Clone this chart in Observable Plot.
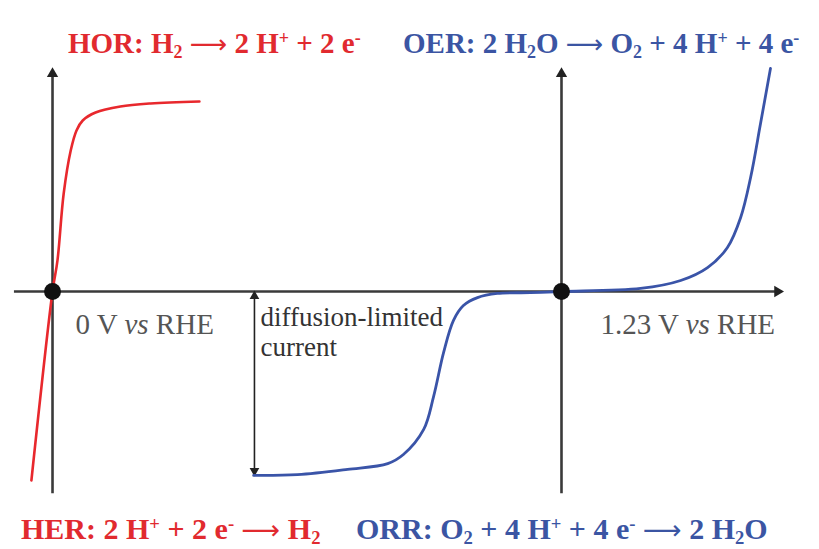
<!DOCTYPE html>
<html>
<head>
<meta charset="utf-8">
<script src="https://cdn.jsdelivr.net/npm/d3@7"></script>
<script src="https://cdn.jsdelivr.net/npm/@observablehq/plot@0.6"></script>
<style>
  html, body { margin: 0; padding: 0; background: #fff; }
  #wrap { width: 819px; height: 549px; position: relative; overflow: hidden; }
  .band { position: relative; width: 819px; }
  .lbl { position: absolute; white-space: nowrap; font-family: "Liberation Serif", "DejaVu Serif", serif;
         font-weight: bold; font-size: 29px; line-height: 29px; }
  #foot .lbl { font-size: 30px; line-height: 30px; }
  .lbl sub, .lbl sup { font-size: 0.62em; line-height: 0; }
  .lbl sub { vertical-align: -0.28em; }
  .lbl sup { vertical-align: 0.5em; }
  .arr { font-family: "DejaVu Sans", sans-serif; font-weight: normal; font-size: 0.9em; }
  .red { color: #e12a2f; }
  .blue { color: #3b55a3; }
  svg { display: block; }
</style>
</head>
<body>
<div id="wrap">
  <div class="band" id="head" style="height:60px">
    <span class="lbl red" style="left:68px; top:29px">HOR: H<sub>2</sub> <span class="arr">⟶</span> 2 H<sup>+</sup> + 2 e<sup>-</sup></span>
    <span class="lbl blue" style="left:403px; top:29px">OER: 2 H<sub>2</sub>O <span class="arr">⟶</span> O<sub>2</sub> + 4 H<sup>+</sup> + 4 e<sup>-</sup></span>
  </div>
  <div id="chart"></div>
  <div class="band" id="foot" style="height:49px">
    <span class="lbl red" style="left:21px; top:14px">HER: 2 H<sup>+</sup> + 2 e<sup>-</sup> <span class="arr">⟶</span> H<sub>2</sub></span>
    <span class="lbl blue" style="left:356px; top:14px">ORR: O<sub>2</sub> + 4 H<sup>+</sup> + 4 e<sup>-</sup> <span class="arr">⟶</span> 2 H<sub>2</sub>O</span>
  </div>
</div>
<script>
// Hydrogen curve (HOR / HER) — potential (V vs RHE), current (arb. units)
const hydrogenE = [-0.051, 0, 0.012, 0.027, 0.044, 0.058, 0.073, 0.104, 0.164, 0.237, 0.355];
const hydrogenJ = [-4.97, 0, 0.82, 2.58, 3.71, 4.24, 4.50, 4.71, 4.87, 4.95, 5.00];

// Oxygen curve (ORR / OER)
const oxygenE = [0.486, 0.592, 0.713, 0.810, 0.848, 0.897, 0.921, 0.945, 0.969, 0.993, 1.027, 1.075, 1.155, 1.23, 1.421, 1.518, 1.583, 1.631, 1.663, 1.687, 1.711, 1.735];
const oxygenJ = [-4.84, -4.82, -4.68, -4.53, -4.29, -3.63, -2.76, -1.61, -0.76, -0.37, -0.16, -0.05, -0.03, 0, 0.08, 0.29, 0.63, 1.16, 1.95, 3.00, 4.42, 5.87];

// Reference potentials marked on the axis
const refE = [0, 1.23];
const refLabels = ["0 V vs RHE", "1.23 V vs RHE"];
const limitingJ = -4.84;
const limitLabel = ["diffusion-limited", "current"];

const hydrogen = hydrogenE.map((e, i) => ({e, j: hydrogenJ[i]}));
const oxygen = oxygenE.map((e, i) => ({e, j: oxygenJ[i]}));

const axisX = [-0.092, 1.764];
const axisY = [-5.32, 5.85];
const AX = "#3a3a3a";
const labelStyle = {y: -0.87, textAnchor: "start", fontFamily: "Liberation Serif, serif", fontSize: 29, fill: "#555"};

const plot = Plot.plot({
  width: 819,
  height: 440,
  margin: 0,
  x: {domain: [-0.1257, 1.8535], axis: null},
  y: {domain: [-5.5, 6.08], axis: null},
  marks: [
    // axes
    Plot.ruleY([0], {x1: axisX[0], x2: axisX[1] - 0.01, stroke: AX, strokeWidth: 2.6}),
    Plot.ruleX(refE, {y1: axisY[0], y2: axisY[1] - 0.1, stroke: AX, strokeWidth: 2.6}),
    Plot.dot([axisX[1]], {x: d => d - 0.012, y: 0, symbol: "triangle", r: 4.2, fill: "#222", rotate: 90}),
    Plot.dot(refE, {x: d => d, y: axisY[1] - 0.12, symbol: "triangle", r: 4.2, fill: "#222", rotate: 0}),
    // diffusion-limited arrow
    Plot.ruleX([0.488], {y1: limitingJ + 0.12, y2: -0.12, stroke: "#222", strokeWidth: 1.6}),
    Plot.dot([0.488], {x: d => d, y: -0.12, symbol: "triangle", r: 3.6, fill: "#222", rotate: 0}),
    Plot.dot([0.488], {x: d => d, y: limitingJ + 0.12, symbol: "triangle", r: 3.6, fill: "#222", rotate: 180}),
    // curves
    Plot.line(hydrogen, {x: "e", y: "j", stroke: "#e8282d", strokeWidth: 2.6, curve: "catmull-rom"}),
    Plot.line(oxygen, {x: "e", y: "j", stroke: "#3a54a8", strokeWidth: 2.8, curve: "catmull-rom"}),
    // reference dots
    Plot.dot(refE, {x: d => d, y: 0, r: 8.5, fill: "#111"}),
    // labels
    Plot.text([refLabels[0]], {...labelStyle, x: refE[0], dx: 23, text: d => d}),
    Plot.text([refLabels[1]], {...labelStyle, x: refE[1], dx: 39, text: d => d}),
    Plot.text(limitLabel, {x: 0.488, y: (d, i) => -0.68 - i * 0.79, dx: 6, text: d => d,
      textAnchor: "start", fontFamily: "Liberation Serif, serif", fontSize: 27, fill: "#333"})
  ]
});

document.getElementById("chart").appendChild(plot);

// italic "vs" inside the potential labels
plot.querySelectorAll("text").forEach(t => {
  const s = t.textContent;
  if (s.includes(" vs RHE")) {
    const pre = s.replace(" vs RHE", " ");
    t.textContent = "";
    const NS = "http://www.w3.org/2000/svg";
    const a = document.createElementNS(NS, "tspan"); a.textContent = pre;
    const b = document.createElementNS(NS, "tspan"); b.textContent = "vs"; b.setAttribute("font-style", "italic");
    const c = document.createElementNS(NS, "tspan"); c.textContent = " RHE";
    t.append(a, b, c);
  }
});
</script>
</body>
</html>
